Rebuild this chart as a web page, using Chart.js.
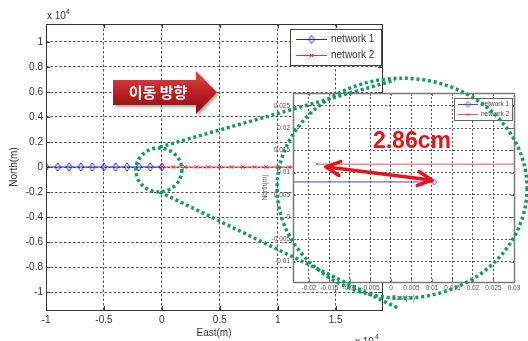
<!DOCTYPE html>
<html>
<head>
<meta charset="utf-8">
<script src="https://cdn.jsdelivr.net/npm/chart.js@4/dist/chart.umd.min.js"></script>
<style>
  html, body { margin: 0; padding: 0; background: #fff; }
  #wrap { position: relative; width: 528px; height: 341px; }
  #wrap canvas { position: absolute; left: 0; top: 0; }
</style>
</head>
<body>
<div id="wrap">
  <canvas id="main" width="528" height="341"></canvas>
  <canvas id="zoom" width="528" height="341"></canvas>
</div>
<script>
const FONT = '"Liberation Sans", Arial, sans-serif';

// wide view, East/North in units of 10^4 m
const net1East  = [-1, -0.9, -0.8, -0.7, -0.6, -0.5, -0.4, -0.3, -0.2, -0.1, 0];
const net1North = [0, 0, 0, 0, 0, 0, 0, 0, 0, 0, 0];
const net2East  = [0, 0.1, 0.2, 0.3, 0.4, 0.5, 0.6, 0.7, 0.8, 0.9, 1, 1.1, 1.2, 1.3, 1.4, 1.5, 1.6, 1.7, 1.8, 1.9];
const net2North = [0, 0, 0, 0, 0, 0, 0, 0, 0, 0, 0, 0, 0, 0, 0, 0, 0, 0, 0, 0];

// close-up at the hand-over, in metres (neighbouring fixes are 1000 m away)
const zoomNet1East  = [-1000, 0.0105];
const zoomNet1North = [0.0079, 0.0079];
const zoomNet2East  = [-0.0181, 1000];
const zoomNet2North = [0.0119, 0.0119];

const seriesNames = ['network 1', 'network 2'];

const mainEastTicks  = [-1, -0.5, 0, 0.5, 1, 1.5];
const mainNorthTicks = [-1, -0.8, -0.6, -0.4, -0.2, 0, 0.2, 0.4, 0.6, 0.8, 1];
const zoomEastTicks  = [-0.02, -0.015, -0.01, -0.005, 0, 0.005, 0.01, 0.015, 0.02, 0.025, 0.03];
const zoomNorthTicks = [-0.01, -0.005, 0, 0.005, 0.01, 0.015, 0.02, 0.025];

const pts = (xs, ys) => xs.map((x, i) => ({ x, y: ys[i] }));

// hollow, slightly tall diamond like matlab's 'd' marker
function diamond(w, h, color) {
  const c = document.createElement('canvas');
  c.width = w + 2; c.height = h + 2;
  const g = c.getContext('2d');
  g.strokeStyle = color; g.lineWidth = 1;
  g.beginPath();
  g.moveTo(c.width / 2, 1); g.lineTo(c.width - 1, c.height / 2);
  g.lineTo(c.width / 2, c.height - 1); g.lineTo(1, c.height / 2);
  g.closePath(); g.stroke();
  return c;
}

function axis(o) {
  return {
    type: 'linear', min: o.min, max: o.max,
    afterBuildTicks: s => { s.ticks = o.ticks.map(value => ({ value })); },
    afterFit: s => { if (o.width) s.width = o.width; if (o.height) s.height = o.height; },
    grid: { color: o.gridColor, lineWidth: 1, drawTicks: false },
    border: { display: false, dash: o.dash },
    ticks: {
      autoSkip: false, maxRotation: 0, padding: o.pad, color: o.textColor,
      font: { family: FONT, size: o.size },
      callback: v => String(+v.toFixed(3))
    },
    title: {
      display: true, text: o.title, color: o.textColor,
      font: { family: FONT, size: o.size }, padding: o.titlePad
    }
  };
}

// closed box with inward tick marks
const axesBox = {
  id: 'axesBox',
  beforeDraw(chart, _a, o) {
    if (!o.fill) return;
    const { ctx, chartArea: a } = chart;
    ctx.save();
    ctx.fillStyle = o.fill;
    ctx.fillRect(a.left, a.top, a.right - a.left, a.bottom - a.top);
    ctx.restore();
  },
  afterDatasetsDraw(chart, _a, o) {
    const { ctx, chartArea: a, scales: { x, y } } = chart;
    ctx.save();
    ctx.strokeStyle = o.color; ctx.lineWidth = o.width;
    ctx.strokeRect(a.left + 0.5, a.top + 0.5, a.right - a.left, a.bottom - a.top);
    ctx.lineWidth = 1;
    ctx.beginPath();
    x.ticks.forEach(t => {
      const px = Math.round(x.getPixelForValue(t.value)) + 0.5;
      ctx.moveTo(px, a.bottom); ctx.lineTo(px, a.bottom - o.tick);
      ctx.moveTo(px, a.top); ctx.lineTo(px, a.top + o.tick);
    });
    y.ticks.forEach(t => {
      const py = Math.round(y.getPixelForValue(t.value)) + 0.5;
      ctx.moveTo(a.left, py); ctx.lineTo(a.left + o.tick, py);
      ctx.moveTo(a.right, py); ctx.lineTo(a.right - o.tick, py);
    });
    ctx.stroke();
    ctx.restore();
  }
};

// boxed legend with line + marker samples
const boxLegend = {
  id: 'boxLegend',
  afterDraw(chart, _a, o) {
    const ctx = chart.ctx;
    ctx.save();
    ctx.fillStyle = '#fff';
    ctx.fillRect(o.x, o.y, o.w, o.h);
    ctx.strokeStyle = o.edge; ctx.lineWidth = 1;
    ctx.strokeRect(o.x + 0.5, o.y + 0.5, o.w, o.h);
    ctx.font = o.size + 'px ' + FONT;
    ctx.textBaseline = 'middle';
    chart.data.datasets.forEach((ds, i) => {
      const cy = Math.round(o.y + o.first + i * o.row) + 0.5;
      const x0 = o.x + o.pad;
      ctx.strokeStyle = ds.borderColor; ctx.lineWidth = 1;
      ctx.beginPath(); ctx.moveTo(x0, cy); ctx.lineTo(x0 + o.line, cy); ctx.stroke();
      ctx.strokeStyle = ds.pointBorderColor || ds.borderColor;
      ctx.fillStyle = 'rgba(0,0,0,0)';
      Chart.helpers.drawPoint(ctx, {
        pointStyle: ds.pointStyle, radius: ds.pointRadius,
        borderWidth: ds.pointBorderWidth || 1, rotation: 0
      }, x0 + o.line / 2, cy);
      ctx.fillStyle = o.text;
      ctx.fillText(ds.label, x0 + o.line + o.gap, cy);
    });
    ctx.restore();
  }
};

// direction banner and exponent labels on the wide view
const mainDecor = {
  id: 'mainDecor',
  afterDraw(chart) {
    const ctx = chart.ctx;
    ctx.save();
    ctx.fillStyle = '#333';
    ctx.font = '10px ' + FONT;
    ctx.fillText('x 10', 47, 19);
    ctx.fillText('x 10', 355, 345);
    ctx.font = '7px ' + FONT;
    ctx.fillText('4', 66, 14);
    ctx.fillText('4', 375, 339);

    // red block arrow
    const top = 71, bot = 114, bodyT = 80, bodyB = 105, x0 = 113, xh = 196, tip = 217;
    const mid = (top + bot) / 2;
    const grad = ctx.createLinearGradient(0, top, 0, bot);
    grad.addColorStop(0, '#e04a48');
    grad.addColorStop(0.45, '#c02224');
    grad.addColorStop(1, '#8a0f13');
    ctx.shadowColor = 'rgba(0,0,0,0.35)';
    ctx.shadowBlur = 3; ctx.shadowOffsetX = 2; ctx.shadowOffsetY = 2;
    ctx.fillStyle = grad;
    ctx.beginPath();
    ctx.moveTo(x0, bodyT); ctx.lineTo(xh, bodyT); ctx.lineTo(xh, top);
    ctx.lineTo(tip, mid); ctx.lineTo(xh, bot); ctx.lineTo(xh, bodyB);
    ctx.lineTo(x0, bodyB); ctx.closePath(); ctx.fill();
    ctx.shadowColor = 'transparent';
    ctx.fillStyle = '#fff';
    ctx.font = 'bold 15px "Noto Sans CJK KR", sans-serif';
    ctx.textAlign = 'center'; ctx.textBaseline = 'middle';
    ctx.fillText('이동 방향', 158, 92);
    ctx.restore();
  }
};

const mainBlue = '#2626c8', mainRed = '#e0343c';

const mainChart = new Chart(document.getElementById('main'), {
  type: 'scatter',
  data: {
    datasets: [
      {
        label: seriesNames[0], data: pts(net1East, net1North), showLine: true,
        borderColor: mainBlue, borderWidth: 1, pointStyle: diamond(6, 8, mainBlue),
        pointRadius: 4, order: 2
      },
      {
        label: seriesNames[1], data: pts(net2East, net2North), showLine: true,
        borderColor: mainRed, borderWidth: 1, pointStyle: 'crossRot', pointRadius: 2.5,
        pointBorderColor: mainRed, pointBorderWidth: 1, order: 1
      }
    ]
  },
  options: {
    responsive: false, animation: false, events: [],
    layout: { padding: { top: 24, right: 146, left: 0, bottom: 0 } },
    plugins: {
      legend: { display: false }, tooltip: { enabled: false },
      axesBox: { color: '#333', width: 1, tick: 4 },
      boxLegend: { x: 290, y: 29, w: 91, h: 36, first: 10, row: 16, pad: 6, line: 31, gap: 4, size: 10, edge: '#444', text: '#333' }
    },
    scales: {
      x: axis({ min: -1, max: 1.9, ticks: mainEastTicks, height: 31, gridColor: '#555', dash: [2.5, 2],
                pad: 4, textColor: '#333', size: 10, title: 'East(m)', titlePad: { top: 0, bottom: 2 } }),
      y: axis({ min: -1.144, max: 1.144, ticks: mainNorthTicks, width: 46, gridColor: '#555', dash: [2.5, 2],
                pad: 3, textColor: '#333', size: 10, title: 'North(m)', titlePad: { top: 8, bottom: 0 } })
    }
  },
  plugins: [axesBox, mainDecor, boxLegend]
});

// green dotted callout, distance arrow and label over the close-up
const callouts = {
  id: 'callouts',
  afterDraw(chart) {
    const ctx = chart.ctx;
    const mx = mainChart.scales.x, my = mainChart.scales.y;
    const zx = chart.scales.x, zy = chart.scales.y;
    const ox = mx.getPixelForValue(0), oy = my.getPixelForValue(0);
    const cx = zx.getPixelForValue(0.0027), cy = zy.getPixelForValue(0.0065);
    ctx.save();
    ctx.strokeStyle = '#179a5c';
    ctx.lineWidth = 3.5;
    ctx.setLineDash([3, 2.8]);
    ctx.beginPath(); ctx.ellipse(ox - 3, oy + 3, 23, 22, 0, 0, Math.PI * 2); ctx.stroke();
    ctx.beginPath(); ctx.ellipse(cx, cy, 125, 110, 0, 0, Math.PI * 2); ctx.stroke();
    ctx.beginPath(); ctx.moveTo(ox - 2, oy - 20); ctx.lineTo(cx - 7, cy - 108); ctx.stroke();
    ctx.beginPath(); ctx.moveTo(ox - 2, oy + 25); ctx.lineTo(cx - 4, cy + 120); ctx.stroke();
    ctx.setLineDash([]);

    // gap between the two tracks
    const gap = zoomNet1East[1] - zoomNet2East[0];
    const ax1 = zx.getPixelForValue(-0.0159), ay1 = zy.getPixelForValue(0.0113);
    const ax2 = zx.getPixelForValue(0.0100), ay2 = zy.getPixelForValue(0.0083);
    const ang = Math.atan2(ay2 - ay1, ax2 - ax1);
    const ux = Math.cos(ang), uy = Math.sin(ang);
    ctx.strokeStyle = '#e4141c'; ctx.fillStyle = '#e4141c';
    ctx.lineWidth = 3.5; ctx.lineCap = 'round'; ctx.lineJoin = 'round';
    ctx.beginPath(); ctx.moveTo(ax1 + ux * 3, ay1 + uy * 3); ctx.lineTo(ax2 - ux * 3, ay2 - uy * 3); ctx.stroke();
    [[ax1, ay1, 1], [ax2, ay2, -1]].forEach(([px, py, s]) => {
      const bx = px + s * ux * 14, by = py + s * uy * 14;
      ctx.beginPath();
      ctx.moveTo(bx - uy * 7, by + ux * 7); ctx.lineTo(px, py); ctx.lineTo(bx + uy * 7, by - ux * 7);
      ctx.stroke();
    });
    ctx.font = 'bold 23px ' + FONT;
    ctx.textAlign = 'center'; ctx.textBaseline = 'alphabetic';
    ctx.fillText((gap * 100).toFixed(2) + 'cm', zx.getPixelForValue(0.0051), zy.getPixelForValue(0.0156));
    ctx.restore();
  }
};

const zoomBlue = '#4a4ad6', zoomRed = '#ec5260';

new Chart(document.getElementById('zoom'), {
  type: 'scatter',
  data: {
    datasets: [
      {
        label: seriesNames[0], data: pts(zoomNet1East, zoomNet1North), showLine: true,
        borderColor: zoomBlue, borderWidth: 1, pointStyle: diamond(5, 6, zoomBlue),
        pointRadius: 3, order: 2
      },
      {
        label: seriesNames[1], data: pts(zoomNet2East, zoomNet2North), showLine: true,
        borderColor: zoomRed, borderWidth: 1, pointStyle: 'crossRot', pointRadius: 2,
        pointBorderColor: zoomRed, pointBorderWidth: 1, order: 1
      }
    ]
  },
  options: {
    responsive: false, animation: false, events: [],
    layout: { padding: { top: 93, right: 14, left: 260, bottom: 35 } },
    plugins: {
      legend: { display: false }, tooltip: { enabled: false },
      axesBox: { color: '#7a7a7a', width: 1.5, tick: 3, fill: '#fff' },
      boxLegend: { x: 454, y: 98, w: 58, h: 22, first: 6, row: 10, pad: 4, line: 20, gap: 3, size: 6.5, edge: '#666', text: '#444' }
    },
    scales: {
      x: axis({ min: -0.0239, max: 0.030, ticks: zoomEastTicks, height: 24, gridColor: '#555', dash: [2, 2],
                pad: 2, textColor: '#555', size: 6.5, title: 'East(m)', titlePad: { top: 0, bottom: 4 } }),
      y: axis({ min: -0.0146, max: 0.0279, ticks: zoomNorthTicks, width: 33, gridColor: '#555', dash: [2, 2],
                pad: 3, textColor: '#555', size: 6.5, title: 'North(m)', titlePad: { top: 1, bottom: 0 } })
    }
  },
  plugins: [axesBox, boxLegend, callouts]
});
</script>
</body>
</html>
